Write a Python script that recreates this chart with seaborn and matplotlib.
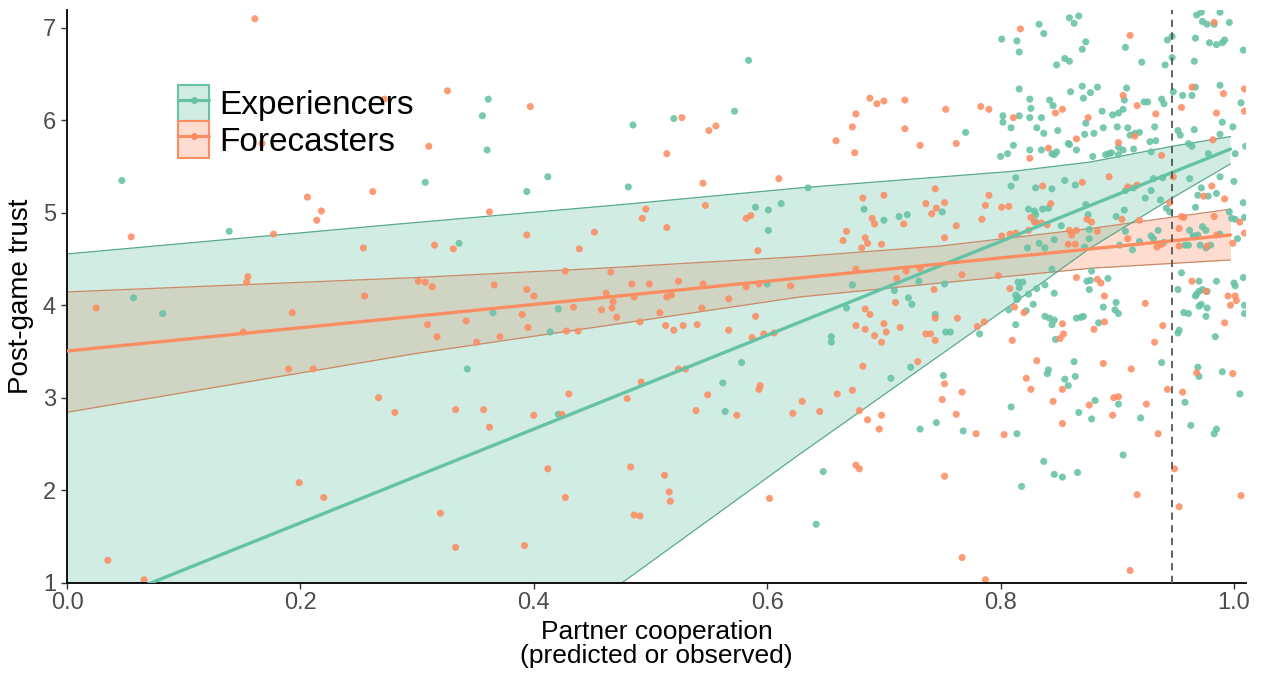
import numpy as np
import pandas as pd
import matplotlib
matplotlib.use("Agg")
import matplotlib.pyplot as plt
import seaborn as sns
from matplotlib.patches import Patch
from matplotlib.lines import Line2D

# ---------------- data ----------------
exp_pts = [
    (0.047,5.35),(0.139,4.80),(0.057,4.08),(0.082,3.91),
    (0.361,6.23),(0.356,6.05),(0.360,5.68),(0.307,5.33),(0.412,5.39),(0.394,5.23),(0.485,5.95),(0.481,5.28),
    (0.520,6.02),(0.572,6.10),(0.584,6.65),(0.336,4.67),(0.590,5.06),(0.601,5.03),(0.612,5.10),(0.601,4.81),
    (0.635,5.27),(0.600,4.23),(0.365,3.92),(0.421,3.96),(0.414,3.71),(0.343,3.31),(0.421,2.82),(0.562,3.16),
    (0.578,3.38),(0.564,2.85),(0.642,1.63),
    (0.683,5.04),(0.700,4.92),(0.713,4.96),(0.720,4.98),(0.673,4.22),(0.730,4.26),(0.709,4.16),(0.721,4.08),
    (0.724,4.01),(0.668,3.97),(0.744,3.90),(0.655,3.66),(0.655,3.60),(0.750,5.01),(0.752,4.23),
    (0.801,6.88),(0.814,6.86),(0.816,6.74),(0.833,7.04),(0.837,6.94),(0.859,7.11),(0.867,7.13),(0.863,7.05),
    (0.873,6.85),(0.870,6.77),(0.855,6.67),(0.859,6.64),(0.848,6.60),(0.770,5.87),(0.816,6.34),(0.825,6.23),
    (0.826,6.13),(0.802,6.05),(0.802,5.98),(0.816,6.05),(0.825,6.03),(0.835,6.03),(0.809,5.92),(0.831,5.92),
    (0.837,5.86),(0.842,6.22),(0.845,6.16),(0.849,5.89),(0.860,6.31),(0.870,6.37),(0.877,6.30),(0.871,6.24),
    (0.883,6.36),(0.873,5.97),(0.872,5.85),(0.880,5.86),(0.858,5.75),(0.859,5.74),(0.865,5.68),(0.811,5.73),
    (0.800,5.61),(0.806,5.64),(0.825,5.68),(0.835,5.68),(0.844,5.64),(0.848,5.66),(0.846,5.63),(0.879,5.61),
    (0.813,5.38),(0.809,5.29),(0.830,5.27),(0.844,5.26),(0.855,5.35),(0.864,5.30),(0.824,5.04),(0.829,5.02),
    (0.830,4.98),(0.836,5.04),(0.841,5.05),(0.830,4.90),(0.873,5.09),(0.875,4.98),(0.852,4.86),(0.876,4.82),
    (0.876,4.72),(0.846,4.71),(0.823,4.62),(0.833,4.67),(0.838,4.62),(0.872,4.63),(0.815,4.25),(0.819,4.25),
    (0.816,4.19),(0.813,4.11),(0.824,4.12),(0.831,4.18),(0.838,4.22),(0.846,4.13),(0.844,4.39),(0.874,4.26),
    (0.877,4.27),(0.876,4.17),(0.878,4.37),
    (0.907,6.79),(0.921,6.63),(0.941,6.60),(0.943,6.87),(0.947,6.91),(0.947,6.68),(0.968,7.14),(0.972,7.17),
    (0.973,7.07),(0.977,7.04),(0.983,7.04),(0.988,7.17),(0.996,7.06),(0.967,6.89),(0.979,6.84),(0.985,6.82),
    (0.990,6.84),(0.992,6.87),(0.966,6.64),(1.008,6.76),(0.908,6.35),(0.906,6.22),(0.923,6.20),(0.926,6.20),
    (0.938,6.23),(0.940,6.18),(0.887,6.10),(0.896,6.06),(0.901,6.08),(0.905,6.12),(0.888,5.92),(0.900,5.93),
    (0.909,5.92),(0.911,5.84),(0.915,5.86),(0.919,5.87),(0.932,5.93),(0.890,5.63),(0.893,5.64),(0.895,5.65),
    (0.901,5.71),(0.905,5.68),(0.901,5.63),(0.914,5.69),(0.928,5.77),(0.933,5.78),(0.929,5.66),(0.948,6.31),
    (0.956,6.27),(0.964,6.27),(0.967,6.36),(0.988,6.38),(1.006,6.19),(0.990,5.98),(0.999,5.93),(0.952,5.89),
    (0.954,5.84),(0.966,5.90),(0.961,5.75),(0.964,5.72),(0.988,5.85),(0.978,5.64),(1.001,5.64),(0.939,5.38),
    (0.931,5.37),(0.907,5.24),(0.914,5.27),(0.929,5.24),(0.924,5.16),(0.937,5.14),(0.962,5.37),(0.942,5.05),
    (0.945,5.01),(1.000,5.34),(0.988,5.39),(0.972,5.27),(0.969,5.19),(0.978,5.18),(0.985,5.21),(1.008,5.11),
    (0.967,5.06),(0.996,5.01),(0.998,4.94),(1.001,4.93),(1.009,4.95),(0.906,5.03),(0.899,4.96),(0.907,4.80),
    (0.935,4.81),(0.929,4.75),(0.931,4.72),(0.919,4.69),(0.913,4.60),(0.902,4.65),(0.940,4.68),(0.962,4.81),
    (0.965,4.75),(0.973,4.85),(0.976,4.81),(0.958,4.65),(0.961,4.65),(0.966,4.74),(0.969,4.76),(0.988,4.77),
    (0.971,4.65),(0.976,4.62),(0.980,4.65),(1.003,4.72),(0.955,4.35),(0.970,4.26),(0.985,4.26),(0.977,4.15),
    (0.968,4.12),(0.973,4.17),(1.000,4.24),(1.001,4.21),(1.008,4.30),(0.892,4.29),(0.952,4.17),(1.010,5.72),
    (0.815,4.08),(0.753,3.71),(0.757,3.71),(0.782,3.69),(0.807,3.95),(0.814,4.06),(0.822,3.94),(0.828,4.01),
    (0.813,3.79),(0.838,3.88),(0.842,3.86),(0.846,3.84),(0.844,3.79),(0.847,3.63),(0.865,3.86),(0.869,3.87),
    (0.871,3.88),(0.884,3.81),(0.863,3.39),(0.841,3.30),(0.840,3.26),(0.855,3.20),(0.864,3.23),(0.858,3.13),
    (0.881,2.97),(0.867,2.84),(0.878,2.77),(0.809,2.90),(0.751,3.24),(0.745,2.73),(0.768,2.64),(0.814,2.61),
    (0.837,2.31),(0.846,2.17),(0.853,2.14),(0.866,2.19),(0.818,2.04),
    (0.648,2.20),(0.706,3.21),(0.723,3.33),(0.731,2.66),
    (0.888,3.98),(0.899,4.03),(0.898,3.95),(0.901,3.91),(0.953,3.73),(0.952,3.70),(0.957,3.92),(0.961,3.91),
    (0.967,4.10),(0.970,4.15),(0.970,3.99),(0.972,4.01),(0.977,3.97),(0.976,3.88),(0.984,3.66),(1.009,4.00),
    (1.009,3.91),(0.938,3.38),(0.958,2.95),(0.969,3.33),(0.970,3.23),(0.990,3.28),(1.005,3.04),(0.901,2.93),
    (0.920,2.78),(0.963,2.70),(0.985,2.66),(0.983,2.61),(0.905,2.38),
]

fc_pts = [
    (0.161,7.10),(0.055,4.74),(0.206,5.17),(0.218,5.02),(0.214,4.92),(0.177,4.77),(0.262,5.23),(0.254,4.62),
    (0.155,4.31),(0.154,4.25),(0.255,4.10),(0.167,5.75),(0.272,6.23),
    (0.025,3.97),(0.151,3.71),(0.193,3.92),(0.190,3.31),(0.211,3.31),(0.267,3.00),(0.281,2.84),(0.199,2.08),
    (0.220,1.92),(0.035,1.24),(0.066,1.03),
    (0.326,6.32),(0.397,6.15),(0.310,5.72),(0.527,6.03),(0.550,5.89),(0.556,5.94),(0.514,5.64),(0.545,5.32),
    (0.610,5.37),(0.362,5.01),(0.547,5.08),(0.496,5.04),(0.493,4.94),(0.514,4.84),(0.452,4.79),(0.394,4.76),
    (0.439,4.61),(0.315,4.65),(0.331,4.61),(0.582,4.94),(0.586,4.97),(0.592,4.59),(0.427,4.37),(0.466,4.36),
    (0.301,4.26),(0.307,4.25),(0.313,4.20),(0.366,4.22),(0.394,4.17),(0.400,4.10),(0.462,4.13),(0.484,4.23),
    (0.499,4.23),(0.524,4.26),(0.545,4.23),(0.582,4.20),(0.593,4.23),(0.620,4.21),(0.514,4.09),(0.518,4.11),
    (0.567,4.07),
    (0.468,4.04),(0.467,3.97),(0.486,4.09),(0.309,3.79),(0.317,3.66),(0.342,3.83),(0.351,3.60),(0.371,3.66),
    (0.390,3.90),(0.395,3.76),(0.428,3.72),(0.438,3.72),(0.434,3.98),(0.458,3.95),(0.471,3.87),(0.491,3.82),
    (0.508,3.92),(0.513,3.78),(0.520,3.73),(0.528,3.78),(0.540,3.79),(0.544,3.97),(0.567,3.73),(0.590,3.88),
    (0.587,3.65),(0.597,3.69),(0.606,3.70),(0.333,2.87),(0.357,2.87),(0.362,2.68),(0.400,2.81),(0.424,2.82),
    (0.430,3.04),(0.480,2.99),(0.492,3.17),(0.524,3.31),(0.530,3.31),(0.549,3.03),(0.539,2.86),(0.574,2.81),
    (0.594,3.13),(0.593,3.09),(0.622,2.83),(0.630,2.96),(0.645,2.85),(0.412,2.23),(0.483,2.25),(0.512,2.16),
    (0.516,1.98),(0.517,1.88),(0.427,1.92),(0.320,1.75),(0.333,1.38),(0.392,1.40),(0.486,1.73),(0.491,1.72),
    (0.602,1.91),
    (0.675,5.65),(0.682,5.16),(0.700,5.19),(0.690,4.94),(0.692,4.88),(0.717,4.88),(0.736,5.10),(0.744,5.26),
    (0.741,4.99),(0.745,5.05),(0.668,4.80),(0.665,4.70),(0.684,4.73),(0.686,4.67),(0.681,4.62),(0.698,4.66),
    (0.676,4.39),(0.719,4.37),(0.731,4.40),(0.711,4.29),(0.743,4.17),(0.710,4.03),(0.684,3.96),(0.688,3.90),
    (0.744,3.86),(0.676,3.78),(0.684,3.74),(0.700,3.80),(0.702,3.71),(0.714,3.76),(0.692,3.67),(0.698,3.60),
    (0.736,3.69),(0.740,3.69),(0.744,3.62),
    (0.659,5.78),(0.676,6.07),(0.673,5.93),(0.688,6.24),(0.694,6.18),(0.700,6.21),(0.718,6.22),(0.718,5.91),
    (0.731,5.73),(0.752,5.11),
    (0.817,6.99),(0.753,6.12),(0.783,6.15),(0.790,6.12),(0.762,5.75),(0.811,6.03),(0.847,6.08),(0.853,6.12),
    (0.875,6.03),(0.865,5.80),(0.825,5.59),(0.841,5.70),(0.836,5.29),(0.870,5.33),(0.790,5.19),(0.787,5.08),
    (0.801,5.06),(0.807,5.07),(0.784,4.93),(0.762,4.86),(0.752,4.73),(0.843,5.10),(0.826,4.95),(0.829,4.90),
    (0.835,4.89),(0.840,4.87),(0.874,4.93),(0.878,4.90),(0.883,4.80),(0.801,4.75),(0.808,4.77),(0.813,4.78),
    (0.824,4.81),(0.859,4.81),(0.865,4.81),(0.861,4.76),(0.858,4.66),(0.864,4.66),(0.767,4.33),(0.798,4.32),
    (0.808,4.18),(0.865,4.30),(0.883,4.28),
    (0.911,6.92),(0.983,7.06),(0.905,6.27),(0.917,6.16),(0.933,6.07),(0.901,5.76),(0.915,5.83),(0.938,5.62),
    (0.964,6.36),(0.991,6.29),(1.009,6.34),(0.955,6.14),(0.985,6.08),(0.982,5.79),(0.948,5.39),(0.917,5.30),
    (0.909,5.28),(0.893,5.39),(0.945,5.11),(0.981,5.29),(0.974,5.18),(0.992,5.15),(0.955,4.96),(0.957,4.95),
    (0.983,4.96),(1.005,4.90),(0.904,4.93),(0.919,4.92),(0.909,4.72),(0.934,4.63),(0.938,4.66),(0.953,4.83),
    (0.953,4.64),(0.985,4.76),(0.977,4.64),(0.999,4.67),(1.009,4.78),(0.964,4.26),(0.976,4.15),(0.995,4.10),
    (1.001,4.10),(0.886,4.24),(0.889,4.10),(1.009,6.10),
    (0.763,3.86),(0.780,3.77),(0.786,3.82),(0.812,3.98),(0.820,3.92),(0.810,3.62),(0.853,3.80),(0.854,3.69),
    (0.851,3.64),(0.880,3.74),(0.831,3.40),(0.822,3.21),(0.826,3.09),(0.853,3.09),(0.845,2.96),(0.876,2.92),
    (0.853,2.72),(0.752,3.15),(0.750,2.98),(0.767,3.06),(0.762,2.82),(0.779,2.61),(0.803,2.60),(0.752,2.15),
    (0.767,1.27),(0.787,1.03),
    (0.660,3.04),(0.673,3.08),(0.679,2.86),(0.686,2.76),(0.698,2.81),(0.696,2.66),(0.682,3.34),(0.729,3.39),
    (0.676,2.27),(0.679,2.23),
    (0.889,3.82),(0.924,4.02),(0.939,3.78),(0.932,3.60),(0.992,3.81),(1.002,4.05),(0.997,4.00),(0.888,3.37),
    (0.912,3.31),(0.943,3.09),(0.956,3.06),(0.968,3.27),(0.999,3.26),(0.897,3.00),(0.901,3.01),(0.925,2.93),
    (0.896,2.81),(0.935,2.61),(0.949,2.23),(0.917,1.95),(1.006,1.94),(0.953,1.82),(0.911,1.13),
]

# fitted lines (endpoints) and confidence bands
exp_line_x = [0.0, 0.997]
exp_line_y = [0.63, 5.69]
exp_band_x = [0.0, 0.285, 0.476, 0.628, 0.811, 0.877, 0.947, 0.997]
exp_band_hi = [4.555, 4.88, 5.09, 5.27, 5.45, 5.55, 5.72, 5.825]
exp_band_lo = [-3.33, -0.74, 1.0, 2.39, 4.02, 4.62, 5.16, 5.53]

fc_line_x = [0.0, 0.997]
fc_line_y = [3.505, 4.76]
fc_band_x = [0.0, 0.3, 0.457, 0.628, 0.748, 0.877, 0.997]
fc_band_hi = [4.144, 4.30, 4.40, 4.526, 4.64, 4.83, 5.04]
fc_band_lo = [2.842, 3.48, 3.77, 4.09, 4.24, 4.40, 4.49]

threshold_x = 0.947

groups = ["Experiencers", "Forecasters"]
colors = {"Experiencers": "#66c2a5", "Forecasters": "#fc8d62"}
edge_colors = {"Experiencers": "#5aa98e", "Forecasters": "#c98a68"}

# ---------------- build frame ----------------
df = pd.DataFrame(
    [(x, y, "Experiencers") for x, y in exp_pts] + [(x, y, "Forecasters") for x, y in fc_pts],
    columns=["coop", "trust", "group"],
)

sns.set_theme(style="white")
plt.rcParams["font.family"] = ["Liberation Sans", "DejaVu Sans"]

fig = plt.figure(figsize=(12.64, 6.73), dpi=100)
ax = fig.add_axes([67 / 1264, 1 - 582.5 / 673, (1246 - 67) / 1264, (582.5 - 9.5) / 673])

# bands (forecasters first, experiencers on top)
for g, bx, lo, hi in [("Forecasters", fc_band_x, fc_band_lo, fc_band_hi),
                      ("Experiencers", exp_band_x, exp_band_lo, exp_band_hi)]:
    c = colors[g]
    ax.fill_between(bx, lo, hi, color=c, alpha=0.3, lw=0, zorder=1)
    ax.plot(bx, lo, color=edge_colors[g], lw=0.9, zorder=1.5)
    ax.plot(bx, hi, color=edge_colors[g], lw=0.9, zorder=1.5)

# points
sns.scatterplot(data=df, x="coop", y="trust", hue="group", hue_order=groups,
                palette=colors, s=26, alpha=0.88, edgecolor="none", legend=False,
                ax=ax, zorder=2)

# fitted lines
line_df = pd.DataFrame({
    "coop": exp_line_x + fc_line_x,
    "trust": exp_line_y + fc_line_y,
    "group": ["Experiencers"] * 2 + ["Forecasters"] * 2,
})
sns.lineplot(data=line_df, x="coop", y="trust", hue="group", hue_order=groups,
             palette=colors, lw=2.4, legend=False, ax=ax, zorder=3)

ax.axvline(threshold_x, color="#555555", lw=1.3, ls=(0, (4, 3)), zorder=4)

ax.set_xlim(0, 1.0103)
ax.set_ylim(1, 7.2)
ax.set_xticks([0, 0.2, 0.4, 0.6, 0.8, 1.0])
ax.set_xticklabels(["0.0", "0.2", "0.4", "0.6", "0.8", "1.0"])
ax.set_yticks([1, 2, 3, 4, 5, 6, 7])
ax.tick_params(axis="both", labelsize=17, labelcolor="#4d4d4d", length=4, width=1,
               color="#333333", direction="out", bottom=True, left=True)
ax.tick_params(axis="x", pad=3)
ax.tick_params(axis="y", pad=4)
ax.tick_params(top=False, right=False)
for side in ["top", "right"]:
    ax.spines[side].set_visible(False)
for side in ["left", "bottom"]:
    ax.spines[side].set_color("black")
    ax.spines[side].set_linewidth(1.3)

ax.set_xlabel("Partner cooperation\n(predicted or observed)", fontsize=19, color="black",
              labelpad=4, linespacing=1.0)
ax.set_ylabel("Post-game trust", fontsize=20, color="black", labelpad=6)

# legend
handles = []
for g in groups:
    c = colors[g]
    handles.append((Patch(facecolor=c, alpha=0.3, edgecolor="none"),
                    Patch(facecolor="none", edgecolor=c, lw=1.5),
                    Line2D([], [], color=c, lw=2.2, marker="o", markersize=4)))
leg = ax.legend(handles, groups, loc="upper left", bbox_to_anchor=(0.094, 0.868),
                frameon=False, fontsize=24, handlelength=0.95, handleheight=1.3,
                labelspacing=0.0, handletextpad=0.3, borderpad=0, borderaxespad=0)
for t in leg.get_texts():
    t.set_color("black")

fig.savefig("out.png", dpi=100)
